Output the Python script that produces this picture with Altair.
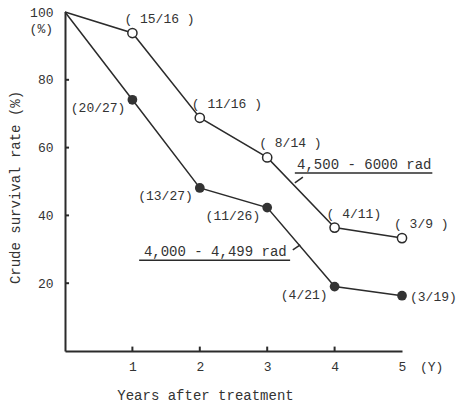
import altair as alt
import pandas as pd

# ---- data ----
years = [0, 1, 2, 3, 4, 5]
high_dose_rate = [100, 93.8, 68.8, 57.1, 36.4, 33.3]
high_dose_labels = ["", "( 15/16 )", "( 11/16 )", "( 8/14 )", "( 4/11)", "( 3/9 )"]
low_dose_rate = [100, 74.1, 48.1, 42.3, 19.0, 16.3]
low_dose_labels = ["", "(20/27)", "(13/27)", "(11/26)", "(4/21)", "(3/19)"]
series_names = ["4,500 - 6000 rad", "4,000 - 4,499 rad"]
x_ticks = [1, 2, 3, 4, 5]
y_ticks = [20, 40, 60, 80, 100]

# series-label annotations (data coordinates)
legend_text_x = [4.44, 2.23]
legend_text_y = [54.9, 29.2]
underline_x = [3.41, 1.10]
underline_x2 = [5.45, 3.34]
underline_y = [52.5, 26.8]
leader_x = [3.41, 3.38]
leader_x2 = [3.53, 3.49]
leader_y = [49.6, 29.8]
leader_y2 = [51.3, 31.3]

FONT = "Liberation Mono"
INK = "#2b2b2b"

df = pd.DataFrame({
    "year": years * 2,
    "rate": high_dose_rate + low_dose_rate,
    "label": high_dose_labels + low_dose_labels,
    "series": [series_names[0]] * 6 + [series_names[1]] * 6,
})
ann = pd.DataFrame({
    "name": series_names,
    "tx": legend_text_x, "ty": legend_text_y,
    "ux": underline_x, "ux2": underline_x2, "uy": underline_y,
    "lx": leader_x, "lx2": leader_x2, "ly": leader_y, "ly2": leader_y2,
})
ticks_df = pd.DataFrame({"v": [20, 40, 60, 80], "zero": 0.0, "small": 0.06})
xticks_df = pd.DataFrame({"v": [1, 2, 3, 4], "zero": 0.0, "small": 1.3})

xs = alt.Scale(domain=[0, 5], nice=False, zero=False)
ys = alt.Scale(domain=[0, 100], nice=False)

x_axis = alt.Axis(
    values=x_ticks, format="d", ticks=False, tickSize=0, grid=False, labelPadding=9,
    labelFont=FONT, labelFontSize=13, labelColor="#333", labelFlush=False,
    domainColor=INK, domainWidth=2,
    title="Years after treatment", titleFont=FONT, titleFontSize=14,
    titleFontWeight="normal", titleColor="#333",
    titleX=140, titleY=44, titleAlign="center", titleBaseline="middle",
)
y_axis = alt.Axis(
    values=y_ticks, format="d", ticks=False, tickSize=0, grid=False, labelPadding=12,
    labelFont=FONT, labelFontSize=13, labelColor="#333", labelFlush=False,
    domainColor=INK, domainWidth=2,
    title="Crude survival rate (%)", titleFont=FONT, titleFontSize=14,
    titleFontWeight="normal", titleColor="#333", titleAngle=270,
    titleX=-50, titleY=175, titleAlign="center", titleBaseline="middle",
)

base = alt.Chart(df)

lines = base.mark_line(color=INK, strokeWidth=1.5).encode(
    x=alt.X("year:Q", scale=xs, axis=x_axis),
    y=alt.Y("rate:Q", scale=ys, axis=y_axis),
    detail="series:N",
)

pts = base.transform_filter(alt.datum.year > 0)

open_pts = pts.transform_filter(alt.datum.series == series_names[0]).mark_point(
    shape="circle", filled=True, fill="white", stroke=INK, strokeWidth=1.5,
    size=85, opacity=1,
).encode(x="year:Q", y="rate:Q")

filled_pts = pts.transform_filter(alt.datum.series == series_names[1]).mark_circle(
    color="#333", size=95, opacity=1,
).encode(x="year:Q", y="rate:Q")

txt = dict(font=FONT, fontSize=13, color="#333", baseline="middle")

open_lbl = pts.transform_filter(alt.datum.series == series_names[0]).mark_text(
    align="left", dx=-8, dy=-14, **txt
).encode(x="year:Q", y="rate:Q", text="label:N")

filled_lbl = pts.transform_filter(
    (alt.datum.series == series_names[1]) & (alt.datum.year < 5)
).mark_text(align="right", dx=-7, dy=8, **txt).encode(
    x="year:Q", y="rate:Q", text="label:N")

filled_lbl_last = pts.transform_filter(
    (alt.datum.series == series_names[1]) & (alt.datum.year == 5)
).mark_text(align="left", dx=8, dy=1, **txt).encode(
    x="year:Q", y="rate:Q", text="label:N")

a = alt.Chart(ann)
leg_text = a.mark_text(font=FONT, fontSize=14, color="#333", baseline="middle",
                       align="center").encode(x="tx:Q", y="ty:Q", text="name:N")
leg_under = a.mark_rule(color=INK, strokeWidth=1.5).encode(
    x="ux:Q", x2="ux2:Q", y="uy:Q")
leg_leader = a.mark_rule(color=INK, strokeWidth=1.5).encode(
    x="lx:Q", x2="lx2:Q", y="ly:Q", y2="ly2:Q")

ytick_marks = alt.Chart(ticks_df).mark_rule(color=INK, strokeWidth=2).encode(
    x="zero:Q", x2="small:Q", y="v:Q")
xtick_marks = alt.Chart(xticks_df).mark_rule(color=INK, strokeWidth=2).encode(
    x="v:Q", y="zero:Q", y2="small:Q")

unit_y = alt.Chart(pd.DataFrame({"t": ["(Y)"]})).mark_text(
    align="left", baseline="top", dx=18, dy=10,
    **{k: v for k, v in txt.items() if k != "baseline"}
).encode(x=alt.datum(5), y=alt.datum(0), text="t:N")
unit_pct = alt.Chart(pd.DataFrame({"t": ["(%)"]})).mark_text(
    align="right", dx=-12, dy=17, **txt
).encode(x=alt.datum(0), y=alt.datum(100), text="t:N")

chart = alt.layer(
    lines, ytick_marks, xtick_marks, open_pts, filled_pts,
    open_lbl, filled_lbl, filled_lbl_last,
    leg_text, leg_under, leg_leader, unit_y, unit_pct,
).properties(
    width=337, height=339,
    autosize=alt.AutoSizeParams(type="none"),
    padding={"left": 65, "top": 12, "right": 55, "bottom": 54},
    background="white",
).configure_view(stroke=None)

chart.save("out.html", embed_options={"renderer": "svg", "actions": False})
